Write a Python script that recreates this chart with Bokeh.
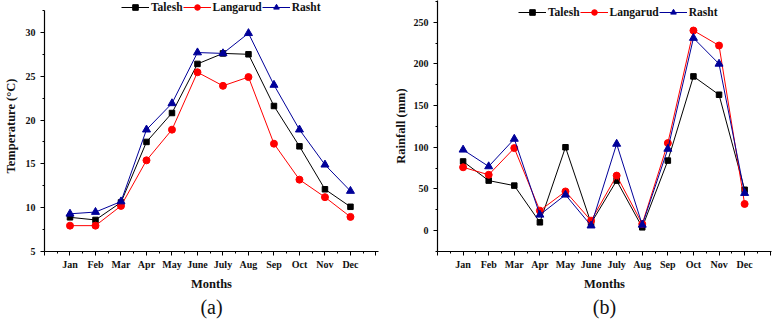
from bokeh.plotting import figure
from bokeh.layouts import row
from bokeh.models import (FixedTicker, Legend, LegendItem, Range1d, Title)
from bokeh.embed import file_html
from bokeh.resources import INLINE

months = ["Jan", "Feb", "Mar", "Apr", "May", "June", "July", "Aug", "Sep", "Oct", "Nov", "Dec"]
series = ["Talesh", "Langarud", "Rasht"]

temp_talesh = [8.9, 8.6, 10.6, 17.5, 20.8, 26.4, 27.6, 27.5, 21.6, 17.0, 12.1, 10.1]
temp_langarud = [7.95, 7.95, 10.2, 15.4, 18.9, 25.45, 23.9, 24.9, 17.3, 13.2, 11.2, 8.95]
temp_rasht = [9.3, 9.5, 10.7, 18.9, 21.9, 27.7, 27.6, 29.9, 24.0, 18.9, 14.9, 11.9]

rain_talesh = [83, 60, 54, 10, 100, 9, 60, 4, 84, 185, 163, 49]
rain_langarud = [76, 67, 99, 24, 47, 12, 66, 8, 105, 240, 222, 32]
rain_rasht = [97, 77, 110, 19, 43, 6, 104, 7, 98, 231, 200, 45]

colors = ["#000000", "#ff0000", "#000099"]
markers = ["square", "circle", "triangle"]
msizes = [5.5, 7, 8]
FONT = "Liberation Serif"
H = 319


def make_chart(data, ylabel, yr, ybounds, ymajor, yminor, caption, width, bl, br, bb,
               xend, leg_x, leg_center, ylab_standoff):
    p = figure(width=width, height=H, output_backend="svg", toolbar_location=None,
               x_range=Range1d(0, xend), y_range=Range1d(*yr),
               min_border_left=bl, min_border_right=br, min_border_top=0, min_border_bottom=bb)
    p.outline_line_color = None
    p.grid.visible = False
    x = list(range(1, 13))
    items = []
    for name, ys, c, m, s in zip(series, data, colors, markers, msizes):
        ln = p.line(x, ys, line_color=c, line_width=1)
        sc = p.scatter(x, ys, marker=m, size=s, fill_color=c, line_color=c)
        items.append(LegendItem(label=name, renderers=[ln, sc]))
    frame_h = H - bb
    leg = Legend(items=items, orientation="horizontal",
                 location=(leg_x, frame_h - leg_center - 7),
                 padding=0, margin=0, spacing=0, label_standoff=2, glyph_width=28,
                 glyph_height=14, label_height=14, border_line_color=None,
                 background_fill_alpha=0, label_text_font=FONT,
                 label_text_font_style="bold", label_text_font_size="11.5px",
                 label_text_color="#111111", label_text_baseline="middle")
    p.add_layout(leg, "center")

    xa = p.xaxis[0]
    xa.ticker = FixedTicker(ticks=list(range(0, 14)),
                            minor_ticks=[i + 0.5 for i in range(0, 13)])
    ov = {0: "", 13: ""}
    ov.update({i + 1: mth for i, mth in enumerate(months)})
    xa.major_label_overrides = ov
    ya = p.yaxis[0]
    ya.ticker = FixedTicker(ticks=ymajor, minor_ticks=yminor)
    ya.bounds = ybounds
    for ax in (xa, ya):
        ax.major_tick_out = 4
        ax.major_tick_in = 0
        ax.minor_tick_out = 2
        ax.minor_tick_in = 0
        ax.axis_line_width = 1.2
        ax.major_label_text_font = FONT
        ax.major_label_text_font_style = "bold"
        ax.major_label_text_font_size = "10px"
        ax.major_label_text_color = "#111111"
        ax.axis_label_text_font = FONT
        ax.axis_label_text_font_style = "bold"
        ax.axis_label_text_font_size = "12.5px"
        ax.axis_label_text_color = "#111111"
    xa.axis_label = "Months"
    xa.axis_label_standoff = 4
    xa.major_label_standoff = 3
    ya.axis_label = ylabel
    ya.axis_label_standoff = ylab_standoff
    ya.major_label_standoff = 5
    p.add_layout(Title(text=caption, align="center", text_font=FONT,
                       text_font_style="normal", text_font_size="20px",
                       text_color="#111111", standoff=0, offset=0), "below")
    return p


p1 = make_chart([temp_talesh, temp_langarud, temp_rasht], "Temperature (°C)",
                (5, 5 + 252 / 8.8), (5, 32.5), [5, 10, 15, 20, 25, 30],
                [7.5, 12.5, 17.5, 22.5, 27.5, 32.5], "(a)",
                390, 41, 12, 67, 13.1, 77, 7.5, 5)
p2 = make_chart([rain_talesh, rain_langarud, rain_rasht], "Rainfall (mm)",
                (-25, 276), (-25, 276), [0, 50, 100, 150, 200, 250],
                [-25, 25, 75, 125, 175, 225, 275], "(b)",
                385, 45, 4, 68, 13.05, 81, 11.7, 3)

layout = row(p1, p2)
open("out.html", "w").write(file_html(layout, INLINE))
